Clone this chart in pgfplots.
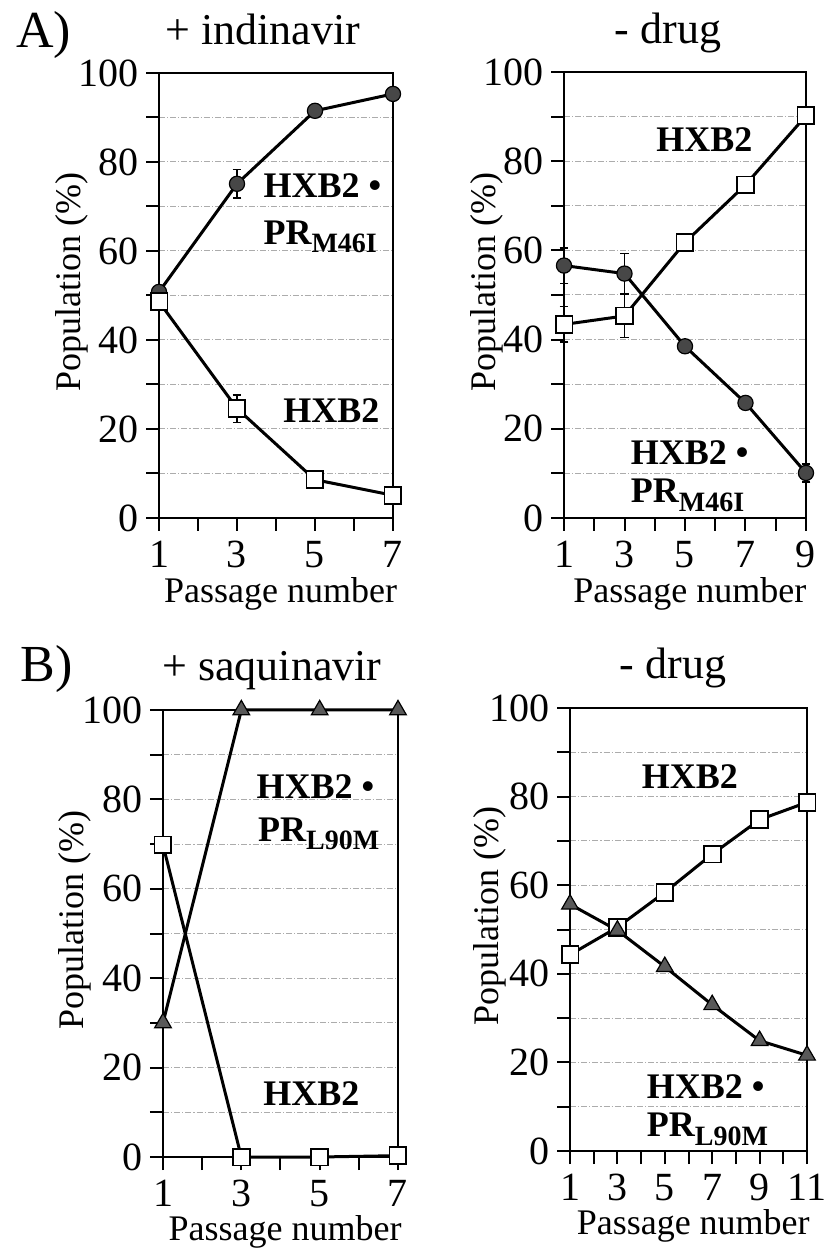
\documentclass[border=0pt]{standalone}
\usepackage{fontspec}
\setmainfont{Liberation Serif}
\usepackage{pgfplots}
\pgfplotsset{compat=1.18}

\newcommand\fs[1]{\fontsize{#1}{#1}\selectfont}
\newcommand\sub[1]{\raisebox{-0.5ex}{\fs{14}#1}}

\tikzset{ann/.style={anchor=base west, font=\fs{18}\bfseries, inner sep=0pt}}

\pgfplotsset{
  panel/.style={
    scale only axis,
    anchor=south west,
    clip=false,
    ymin=0, ymax=100,
    ytick={0,20,...,100},
    minor ytick={10,30,...,90},
    ymajorgrids, yminorgrids,
    grid style={gray!65, line width=0.5pt, dash pattern=on 3pt off 1pt on 0.6pt off 1pt},
    minor grid style={gray!65, line width=0.5pt, dash pattern=on 3pt off 1pt on 0.6pt off 1pt},
    xtick pos=bottom, ytick pos=left,
    tick align=outside,
    major tick length=6.5pt, minor tick length=6.5pt,
    every tick/.style={black, line width=1pt},
    minor tick style={black, line width=1pt},
    axis line style={line width=1.2pt},
    /pgf/number format/assume math mode=true,
    ticklabel style={font=\fs{20}},
    label style={font=\fs{18}},
    xlabel={Passage number},
    ylabel={Population (\%)},
    ylabel style={anchor=center, rotate=0},
  },
  % x tick labels and x label, offsets from the x axis
  xlab/.style 2 args={
    xticklabel style={inner sep=1pt, yshift=-#1},
    xlabel style={at={(axis description cs:0.52,0)}, anchor=base, inner sep=1pt, yshift=-#2},
  },
  circ/.style={black, line width=1.5pt, mark=*, mark size=3.8pt,
    mark options={fill=black!72, draw=black, line width=0.6pt}},
  sq/.style={black, line width=1.5pt, mark=square*, mark size=4.2pt,
    mark options={fill=white, draw=black, line width=0.9pt}},
  tri/.style={black, line width=1.5pt, mark=triangle*, mark size=4.8pt,
    mark options={fill=black!65, draw=black, line width=0.6pt}},
  ebar/.style={error bars/.cd, y dir=both, y explicit,
    error bar style={line width=0.8pt},
    error mark options={rotate=90, mark size=2.2pt, line width=0.8pt}},
}

\begin{document}
\begin{tikzpicture}
\path[use as bounding box] (0,0) rectangle (412pt,625pt);

% titles
\node[anchor=base west, font=\fs{26}, inner sep=0pt] at (8pt,601pt) {A)};
\node[anchor=base, font=\fs{22}, inner sep=0pt] at (131.5pt,602.5pt) {+ indinavir};
\node[anchor=base, font=\fs{22}, inner sep=0pt] at (334pt,603pt) {- drug};
\node[anchor=base west, font=\fs{26}, inner sep=0pt] at (10pt,284pt) {B)};
\node[anchor=base, font=\fs{22}, inner sep=0pt] at (136pt,284.5pt) {+ saquinavir};
\node[anchor=base, font=\fs{22}, inner sep=0pt] at (336.5pt,285.5pt) {- drug};

% A) + indinavir
\begin{axis}[panel, xlab={4pt}{42.5pt}, at={(79.5pt,366pt)}, width=117pt, height=222.5pt,
  xmin=1, xmax=7, xtick={1,3,5,7}, minor xtick={2,4,6},
  ylabel style={at={(axis description cs:-0.372,0.53)}}]
\addplot[circ, ebar] coordinates {
  (1,50.8) +- (0,0) (3,75.1) +- (0,3.2) (5,91.5) +- (0,0) (7,95.3) +- (0,0)
};
\addplot[sq, ebar] coordinates {
  (1,48.6) +- (0,0) (3,24.6) +- (0,3.1) (5,8.6) +- (0,0) (7,5.1) +- (0,0)
};
\node[ann] at (axis cs:3.67,72.1) {HXB2 \textbullet};
\node[ann] at (axis cs:3.67,61.5) {PR\sub{M46I}};
\node[ann] at (axis cs:4.18,21.5) {HXB2};
\end{axis}

% A) - drug
\begin{axis}[panel, xlab={4pt}{42.5pt}, at={(282pt,366pt)}, width=121pt, height=223pt,
  xmin=1, xmax=9, xtick={1,3,5,7,9}, minor xtick={2,4,6,8},
  ylabel style={at={(axis description cs:-0.318,0.53)}}]
\addplot[circ, ebar] coordinates {
  (1,56.6) +- (0,4) (3,54.8) +- (0,4.5) (5,38.5) +- (0,0) (7,25.8) +- (0,0) (9,10.1) +- (0,2)
};
\addplot[sq, ebar] coordinates {
  (1,43.4) +- (0,4) (3,45.3) +- (0,4.8) (5,61.8) +- (0,0) (7,74.7) +- (0,0) (9,90.2) +- (0,2)
};
\node[ann] at (axis cs:4.04,82.1) {HXB2};
\node[ann] at (axis cs:3.2,11.9) {HXB2 \textbullet};
\node[ann] at (axis cs:3.2,3.4) {PR\sub{M46I}};
\end{axis}

% B) + saquinavir
\begin{axis}[panel, xlab={4pt}{41.5pt}, at={(81.5pt,46.5pt)}, width=117.5pt, height=223.5pt,
  xmin=1, xmax=7, xtick={1,3,5,7}, minor xtick={2,4,6},
  ylabel style={at={(axis description cs:-0.374,0.53)}}]
\addplot[tri] coordinates {(1,30) (3,100) (5,100) (7,100)};
\addplot[sq] coordinates {(1,69.8) (3,0) (5,0) (7,0.3)};
\node[ann] at (axis cs:3.38,80.2) {HXB2 \textbullet};
\node[ann] at (axis cs:3.42,70.6) {PR\sub{L90M}};
\node[ann] at (axis cs:3.55,11.6) {HXB2};
\end{axis}

% B) - drug
\begin{axis}[panel, xlab={4pt}{41.5pt}, at={(285pt,49.5pt)}, width=118.5pt, height=221.5pt,
  xmin=1, xmax=11, xtick={1,3,5,7,9,11}, minor xtick={2,4,6,8,10},
  ylabel style={at={(axis description cs:-0.338,0.53)}}]
\addplot[sq] coordinates {(1,44.3) (3,50.5) (5,58.4) (7,67) (9,74.8) (11,78.7)};
\addplot[tri] coordinates {(1,55.7) (3,49.8) (5,41.6) (7,33.0) (9,24.9) (11,21.6)};
\node[ann] at (axis cs:4.02,81.9) {HXB2};
\node[ann] at (axis cs:4.23,11.8) {HXB2 \textbullet};
\node[ann] at (axis cs:4.23,3.2) {PR\sub{L90M}};
\end{axis}
\end{tikzpicture}
\end{document}
